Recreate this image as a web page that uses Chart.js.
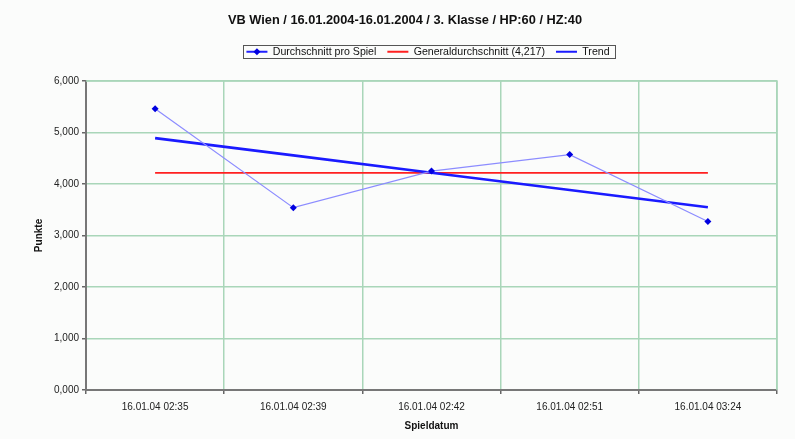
<!DOCTYPE html>
<html>
<head>
<meta charset="utf-8">
<script src="https://cdn.jsdelivr.net/npm/chart.js@4/dist/chart.umd.min.js"></script>
<style>
  html, body { margin: 0; padding: 0; background: #fbfcfb; }
  #wrap { width: 795px; height: 439px; }
</style>
</head>
<body>
<div id="wrap"><canvas id="chart" width="795" height="439"></canvas></div>
<script>
// daten
const labels = ['16.01.04 02:35', '16.01.04 02:39', '16.01.04 02:42', '16.01.04 02:51', '16.01.04 03:24'];
const durchschnitt = [5.46, 3.54, 4.25, 4.57, 3.27];
const general = [4.217, 4.217, 4.217, 4.217, 4.217];
const trend = [4.89, 4.555, 4.218, 3.883, 3.548];
const yTicks = ['0,000', '1,000', '2,000', '3,000', '4,000', '5,000', '6,000'];

const FONT = "'Liberation Sans', Arial, sans-serif";
const GRID = '#a9d6b9';

// rahmen um die legende + raute im ersten eintrag
const legendBox = {
    id: 'legendBox',
    beforeLayout(chart) {
        const lg = chart.legend;
        if (lg && !lg._patched) {
            const fit = lg.fit;
            lg.fit = function () {
                fit.call(this);
                this.height += 14;
            };
            lg._patched = true;
        }
    },
    afterLayout(chart) {
        // legende sitzt im original etwas rechts von der mitte
        const lg = chart.legend;
        if (lg) { lg.left += 23; lg.right += 23; }
    },
    afterDraw(chart) {
        const lg = chart.legend;
        if (!lg || !lg.legendHitBoxes.length) return;
        const hb = lg.legendHitBoxes;
        const ctx = chart.ctx;
        const x0 = hb[0].left - 3;
        const last = hb[hb.length - 1];
        const x1 = last.left + last.width + 6;
        const y0 = hb[0].top - 1;
        const y1 = hb[0].top + hb[0].height + 1;
        ctx.save();
        ctx.strokeStyle = '#555';
        ctx.lineWidth = 1;
        ctx.strokeRect(Math.round(x0) + 0.5, Math.round(y0) + 0.5, Math.round(x1 - x0), Math.round(y1 - y0));
        // raute
        const cx = hb[0].left + 10.5;
        const cy = hb[0].top + hb[0].height / 2;
        ctx.fillStyle = '#0000e0';
        ctx.beginPath();
        ctx.moveTo(cx, cy - 3.5);
        ctx.lineTo(cx + 3.5, cy);
        ctx.lineTo(cx, cy + 3.5);
        ctx.lineTo(cx - 3.5, cy);
        ctx.closePath();
        ctx.fill();
        ctx.restore();
    }
};

const legendColors = ['#2020ff', '#ff2020', '#1a1aff'];

new Chart(document.getElementById('chart'), {
    type: 'line',
    data: {
        labels: labels,
        datasets: [
            {
                label: 'Durchschnitt pro Spiel',
                data: durchschnitt,
                borderColor: '#8c8cff',
                borderWidth: 1.2,
                pointStyle: 'rectRot',
                pointRadius: 3.5,
                pointBackgroundColor: '#0000e0',
                pointBorderColor: '#0000e0',
                pointBorderWidth: 0,
                tension: 0,
                order: 1
            },
            {
                label: 'Generaldurchschnitt (4,217)',
                data: general,
                borderColor: '#ff2020',
                borderWidth: 1.8,
                pointRadius: 0,
                order: 3
            },
            {
                label: 'Trend',
                data: trend,
                borderColor: '#1a1aff',
                borderWidth: 2.6,
                pointRadius: 0,
                order: 2
            }
        ]
    },
    options: {
        responsive: false,
        animation: false,
        layout: { padding: { left: 33, right: 18, top: 6, bottom: 7 } },
        plugins: {
            title: {
                display: true,
                text: 'VB Wien / 16.01.2004-16.01.2004 / 3. Klasse / HP:60 / HZ:40',
                color: '#111',
                font: { family: FONT, size: 12.8, weight: 'bold' },
                padding: { top: 7, bottom: 7 }
            },
            legend: {
                display: true,
                position: 'top',
                labels: {
                    color: '#111',
                    font: { family: FONT, size: 10.6 },
                    boxWidth: 21,
                    boxHeight: 2,
                    padding: 11,
                    generateLabels(chart) {
                        return chart.data.datasets.map((ds, i) => ({
                            text: ds.label,
                            fillStyle: legendColors[i],
                            strokeStyle: legendColors[i],
                            lineWidth: 0,
                            hidden: false,
                            datasetIndex: i,
                            fontColor: '#111'
                        }));
                    }
                }
            },
            tooltip: { enabled: false }
        },
        scales: {
            x: {
                offset: true,
                grid: {
                    offset: true,
                    color: GRID,
                    lineWidth: 1.5,
                    drawTicks: true,
                    tickLength: 4,
                    tickColor: '#666'
                },
                border: { color: '#777', width: 2 },
                ticks: {
                    color: '#222',
                    font: { family: FONT, size: 10 },
                    maxRotation: 0,
                    padding: 7
                },
                title: {
                    display: true,
                    text: 'Spieldatum',
                    color: '#111',
                    font: { family: FONT, size: 10, weight: 'bold' },
                    padding: { top: 0, bottom: 0 }
                }
            },
            y: {
                min: 0,
                max: 6,
                afterFit(s) { s.width = 53; },
                grid: {
                    color: GRID,
                    lineWidth: 1.5,
                    tickLength: 4,
                    tickColor: '#666'
                },
                border: { color: '#777', width: 2 },
                ticks: {
                    stepSize: 1,
                    color: '#222',
                    font: { family: FONT, size: 10 },
                    padding: 3,
                    callback: (v, i) => yTicks[i]
                },
                title: {
                    display: true,
                    text: 'Punkte',
                    color: '#111',
                    font: { family: FONT, size: 10, weight: 'bold' },
                    padding: { top: 0, bottom: 2 }
                }
            }
        }
    },
    plugins: [legendBox, {
        id: 'rightBorder',
        afterDraw(chart) {
            const a = chart.chartArea, ctx = chart.ctx;
            ctx.save();
            ctx.strokeStyle = GRID;
            ctx.lineWidth = 1.5;
            ctx.beginPath();
            ctx.moveTo(a.left, a.top);
            ctx.lineTo(a.right, a.top);
            ctx.lineTo(a.right, a.bottom);
            ctx.stroke();
            ctx.restore();
        }
    }]
});
</script>
</body>
</html>
